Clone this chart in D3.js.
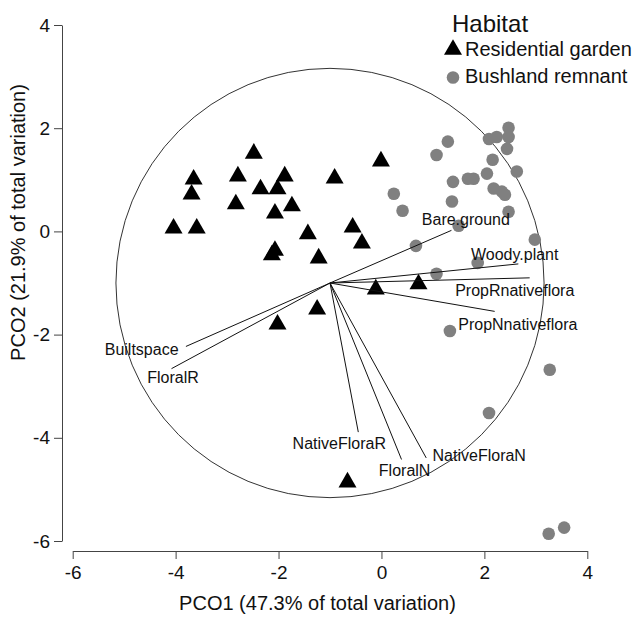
<!DOCTYPE html>
<html>
<head>
<meta charset="utf-8">
<script src="https://cdn.jsdelivr.net/npm/d3@7"></script>
<style>
  body { margin: 0; background: #fff; }
  text { font-family: "Liberation Sans", Arial, sans-serif; }
</style>
</head>
<body>
<div id="chart"></div>
<script>
//Data.
let gardenX = [-4.04, -3.59, -3.65, -3.69, -2.48, -2.79, -2.83, -2.35, -2.02, -1.88, -1.74, -2.07, -2.07, -2.13, -1.43,
               -0.91, -0.01, -0.56, -0.38, -1.22, -0.11, 0.72, -1.25, -2.02, -0.66];
let gardenY = [0.11, 0.11, 1.06, 0.77, 1.56, 1.12, 0.58, 0.87, 0.87, 1.12, 0.54, 0.40, -0.32, -0.41, 0.00,
               1.08, 1.41, 0.13, -0.18, -0.47, -1.07, -0.97, -1.46, -1.75, -4.81];

let bushX = [2.47, 2.47, 2.09, 2.24, 2.44, 1.29, 1.07, 2.16, 2.63, 2.05, 1.39, 1.68, 1.79, 2.18, 2.34, 2.40,
             0.24, 1.37, 0.41, 2.47, 1.50, 0.67, 2.98, 1.87, 1.07, 1.33, 3.27, 2.09, 3.25, 3.55];
let bushY = [2.01, 1.83, 1.79, 1.83, 1.60, 1.74, 1.48, 1.39, 1.16, 1.12, 0.96, 1.02, 1.02, 0.83, 0.77, 0.71,
             0.73, 0.58, 0.40, 0.38, 0.11, -0.28, -0.16, -0.61, -0.82, -1.93, -2.68, -3.52, -5.86, -5.74];

let vectorNames = ["Bare.ground", "Woody.plant", "PropRnativeflora", "PropNnativeflora", "Builtspace",
                   "FloralR", "NativeFloraR", "FloralN", "NativeFloraN"];
let vectorEndX = [1.36, 2.66, 2.88, 2.20, -3.80, -4.08, -0.45, 0.39, 0.87];
let vectorEndY = [0.02, -0.63, -0.90, -1.55, -2.23, -2.66, -3.89, -4.42, -4.39];
let labelX = [1.64, 2.59, 2.59, 2.65, -4.66, -4.05, -0.82, 0.45, 1.90];
let labelY = [0.23, -0.45, -1.15, -1.80, -2.29, -2.83, -4.11, -4.63, -4.34];

let origin = [-1, -1];
let circleRadius = 4.16;
let ticks = [-6, -4, -2, 0, 2, 4];
let groups = ["Residential garden", "Bushland remnant"];

//Creating the main SVG.
let width = 634, height = 617;
let svg = d3.select("#chart").append("svg")
            .attr("width", width)
            .attr("height", height);

let xScaler = d3.scaleLinear().domain([-6, 4]).range([72.7, 587.3]);
let yScaler = d3.scaleLinear().domain([-6, 4]).range([541, 25]);

//Axes, R style (detached from each other).
let xAxis = svg.append("g")
    .attr("transform", "translate(0,551)")
    .call(d3.axisBottom(xScaler).tickValues(ticks).tickSize(8).tickSizeOuter(0).tickPadding(7).tickFormat(d => d));
let yAxis = svg.append("g")
    .attr("transform", "translate(62,0)")
    .call(d3.axisLeft(yScaler).tickValues(ticks).tickSize(8).tickSizeOuter(0).tickPadding(4).tickFormat(d => d));

[xAxis, yAxis].forEach(ax => {
    ax.select(".domain").attr("stroke", "#444");
    ax.selectAll(".tick line").attr("stroke", "#444");
    ax.selectAll(".tick text").attr("fill", "#111").style("font-size", "19px");
});

svg.append("text")
    .attr("x", 317.5).attr("y", 610)
    .attr("text-anchor", "middle")
    .style("font-size", "20px").attr("fill", "#111")
    .text("PCO1 (47.3% of total variation)");

svg.append("text")
    .attr("transform", "translate(25,222.5) rotate(-90)")
    .attr("text-anchor", "middle")
    .style("font-size", "20px").attr("fill", "#111")
    .text("PCO2 (21.9% of total variation)");

//Correlation circle.
svg.append("ellipse")
    .attr("cx", xScaler(origin[0]))
    .attr("cy", yScaler(origin[1]))
    .attr("rx", xScaler(circleRadius) - xScaler(0))
    .attr("ry", yScaler(0) - yScaler(circleRadius))
    .attr("fill", "none")
    .attr("stroke", "#333")
    .attr("stroke-width", 1);

//Points.
let bush = d3.range(bushX.length).map(i => ({x: bushX[i], y: bushY[i]}));
let garden = d3.range(gardenX.length).map(i => ({x: gardenX[i], y: gardenY[i]}));

svg.selectAll("circle.bush").data(bush).enter().append("circle")
    .attr("class", "bush")
    .attr("cx", d => xScaler(d.x))
    .attr("cy", d => yScaler(d.y))
    .attr("r", 6.3)
    .attr("fill", "#808080");

let tri = d3.symbol(d3.symbolTriangle, 140)();
svg.selectAll("path.garden").data(garden).enter().append("path")
    .attr("class", "garden")
    .attr("d", tri)
    .attr("transform", d => "translate(" + xScaler(d.x) + "," + (yScaler(d.y) + 2.6) + ")")
    .attr("fill", "#000");

//Vectors and their labels.
let vectors = vectorNames.map((n, i) => ({name: n, x: vectorEndX[i], y: vectorEndY[i], lx: labelX[i], ly: labelY[i]}));

svg.selectAll("line.vec").data(vectors).enter().append("line")
    .attr("class", "vec")
    .attr("x1", xScaler(origin[0]))
    .attr("y1", yScaler(origin[1]))
    .attr("x2", d => xScaler(d.x))
    .attr("y2", d => yScaler(d.y))
    .attr("stroke", "#111")
    .attr("stroke-width", 1);

svg.selectAll("text.vec").data(vectors).enter().append("text")
    .attr("class", "vec")
    .attr("x", d => xScaler(d.lx))
    .attr("y", d => yScaler(d.ly))
    .attr("text-anchor", "middle")
    .attr("dominant-baseline", "central")
    .style("font-size", "16px")
    .attr("fill", "#111")
    .text(d => d.name);

//Legend.
let legend = svg.append("g");
legend.append("text")
    .attr("x", 452).attr("y", 32)
    .style("font-size", "24px").attr("fill", "#111")
    .text("Habitat");
legend.append("path")
    .attr("d", tri)
    .attr("transform", "translate(453," + (47 + 2.6) + ")")
    .attr("fill", "#000");
legend.append("circle")
    .attr("cx", 453).attr("cy", 77.5).attr("r", 6.3)
    .attr("fill", "#808080");
legend.selectAll("text.item").data(groups).enter().append("text")
    .attr("class", "item")
    .attr("x", 465)
    .attr("y", (d, i) => 56 + i * 27)
    .style("font-size", "20px").attr("fill", "#111")
    .text(d => d);
</script>
</body>
</html>
